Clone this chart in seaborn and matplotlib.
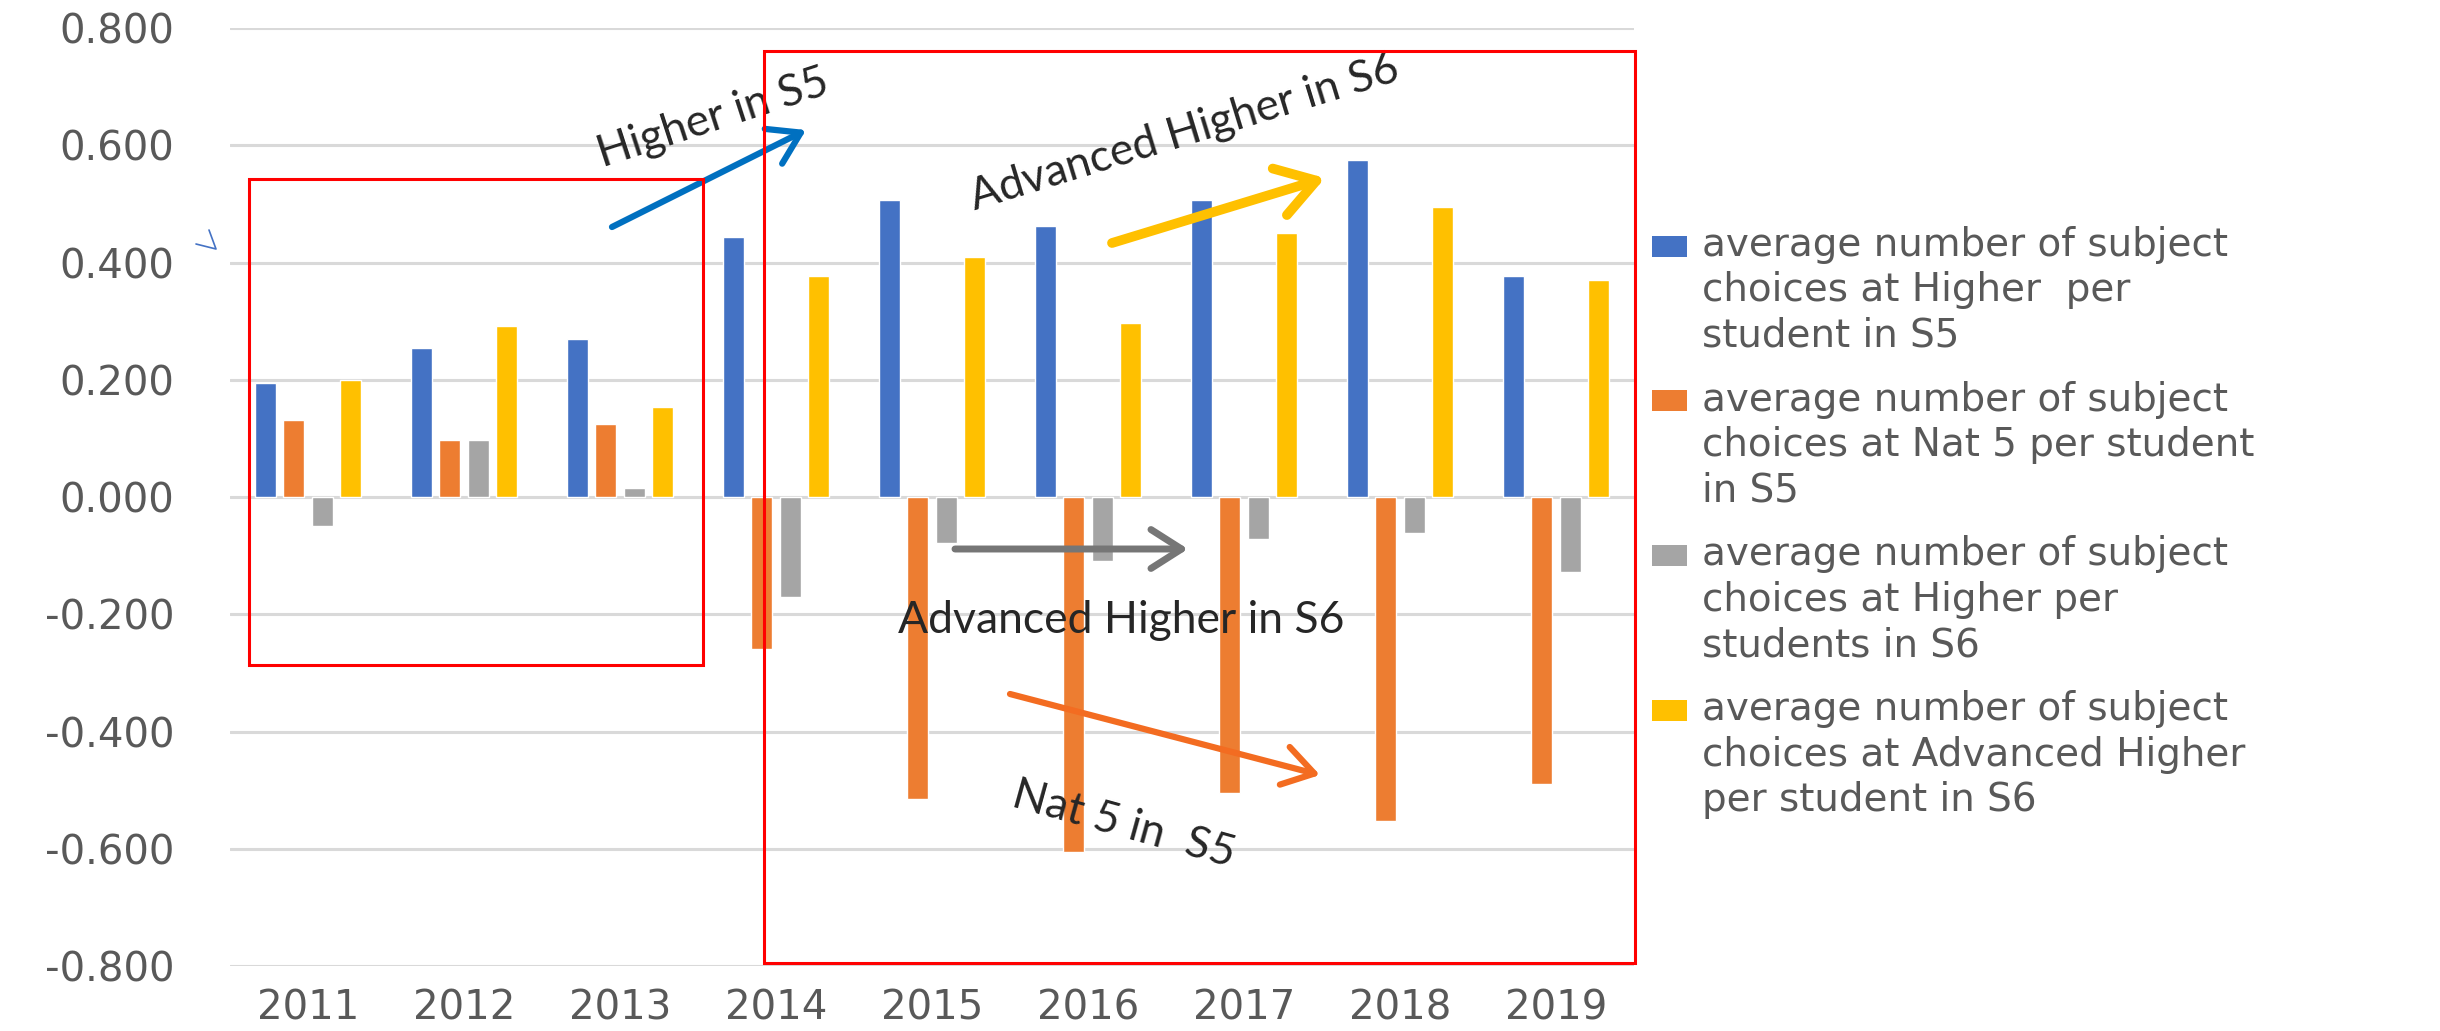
import numpy as np
import pandas as pd
import matplotlib
matplotlib.use("Agg")
import matplotlib.pyplot as plt
from matplotlib.patches import Rectangle
from matplotlib.lines import Line2D
import seaborn as sns

# ---- data -------------------------------------------------------------
years = ["2011", "2012", "2013", "2014", "2015", "2016", "2017", "2018", "2019"]

higher_s5 = [0.194, 0.255, 0.269, 0.443, 0.506, 0.463, 0.506, 0.574, 0.377]
nat5_s5 = [0.131, 0.098, 0.124, -0.259, -0.515, -0.606, -0.505, -0.552, -0.489]
higher_s6 = [-0.049, 0.098, 0.016, -0.171, -0.079, -0.109, -0.072, -0.062, -0.128]
adv_higher_s6 = [0.200, 0.292, 0.154, 0.377, 0.410, 0.296, 0.450, 0.495, 0.371]

series_keys = ["higher_s5", "nat5_s5", "higher_s6", "adv_higher_s6"]
series_labels = [
    "average number of subject\nchoices at Higher  per\nstudent in S5",
    "average number of subject\nchoices at Nat 5 per student\nin S5",
    "average number of subject\nchoices at Higher per\nstudents in S6",
    "average number of subject\nchoices at Advanced Higher\nper student in S6",
]
series_colors = ["#4472C4", "#ED7D31", "#A5A5A5", "#FFC000"]

y_ticks = [-0.8, -0.6, -0.4, -0.2, 0.0, 0.2, 0.4, 0.6, 0.8]

df = pd.DataFrame({
    "year": years * 4,
    "series": np.repeat(series_keys, len(years)),
    "value": higher_s5 + nat5_s5 + higher_s6 + adv_higher_s6,
})

# ---- figure -----------------------------------------------------------
sns.set_style("white")
plt.rcParams["font.family"] = ["DejaVu Sans"]

W, H = 2440, 1031
fig = plt.figure(figsize=(W / 100, H / 100), dpi=100)
ax = fig.add_axes([230 / W, 1 - 966 / H, 1404 / W, (966 - 28) / H])

sns.barplot(
    data=df, x="year", y="value", hue="series", hue_order=series_keys,
    palette=series_colors, width=0.72, gap=0.25, saturation=1,
    errorbar=None, legend=False, ax=ax,
)

ax.set_xlim(-0.5, 8.5)
ax.set_ylim(-0.8, 0.8)
ax.set_yticks(y_ticks, labels=[f"{t:.3f}" for t in y_ticks])
ax.set_xlabel("")
ax.set_ylabel("")
ax.tick_params(axis="both", length=0, labelsize=29, labelcolor="#595959")
ax.tick_params(axis="y", pad=40)
ax.tick_params(axis="x", pad=16)
for s in ax.spines.values():
    s.set_visible(False)
ax.yaxis.grid(True, color="#D9D9D9", lw=2.2)
ax.xaxis.grid(False)
ax.set_axisbelow(True)


def fpx(x, y):
    """Top-left pixel position -> figure pixels (origin bottom-left)."""
    return (x, H - y)


# ---- highlight boxes --------------------------------------------------
for (x0, y0, x1, y1) in [(249, 179, 703, 665), (764, 51, 1635, 963)]:
    fig.add_artist(Rectangle((x0 / W, 1 - y1 / H), (x1 - x0) / W, (y1 - y0) / H,
                             transform=fig.transFigure, fill=False,
                             ec="#FF0000", lw=2.2))

# ---- trend arrows -----------------------------------------------------
arrows = [
    ((612, 227), (806, 130), "#0070C0", 4.5, 40),
    ((1112, 243), (1325, 178), "#FFC000", 7.0, 50),
    ((955, 549), (1188, 549), "#767676", 5.0, 40),
    ((1010, 694), (1320, 775), "#F36C21", 4.5, 40),
]
for tail, head, col, lw, ms in arrows:
    ax.annotate("", xy=fpx(*head), xytext=fpx(*tail),
                xycoords="figure pixels", textcoords="figure pixels",
                arrowprops=dict(arrowstyle="->,head_length=0.55,head_width=0.35",
                                color=col, lw=lw, mutation_scale=ms,
                                shrinkA=0, shrinkB=0))

# ---- annotation labels ------------------------------------------------
notes = [
    ("Higher in S5", (603, 167), 18),
    ("Advanced Higher in S6", (975, 210), 17),
    ("Advanced Higher in S6", (898, 633), 0),
    ("Nat 5 in  S5", (1010, 806), -15.5),
]
for txt, (x, y), rot in notes:
    ax.annotate(txt, xy=fpx(x, y), xycoords="figure pixels",
                ha="left", va="baseline", rotation=rot, rotation_mode="anchor",
                fontsize=32, family=["Lato", "DejaVu Sans"], fontweight="normal",
                color="#262626")

# small pen stroke beside the value axis
fig.add_artist(Line2D(np.array([209, 216, 196]) / W,
                      1 - np.array([230, 249, 244]) / H,
                      transform=fig.transFigure, color="#4472C4", lw=1.2))

# ---- legend -----------------------------------------------------------
for i, (lab, col) in enumerate(zip(series_labels, series_colors)):
    yc = 246 + i * 154.7
    fig.add_artist(Rectangle((1652 / W, 1 - (yc + 10.5) / H), 35 / W, 21 / H,
                             transform=fig.transFigure, color=col, lw=0))
    fig.text(1702 / W, 1 - (yc - 20) / H, lab, ha="left", va="top",
             fontsize=28, linespacing=1.25, color="#595959")

fig.savefig("out.png", dpi=100)
